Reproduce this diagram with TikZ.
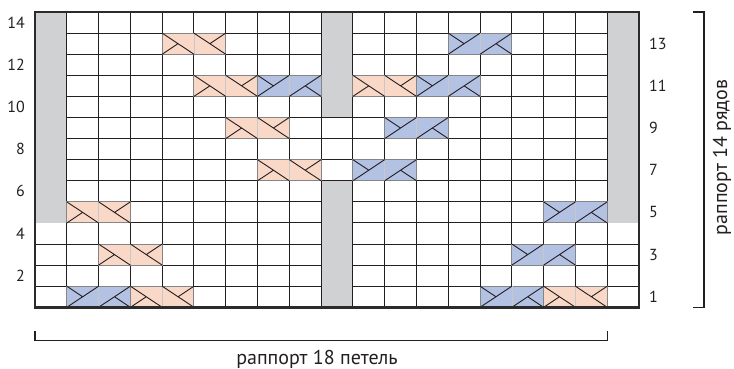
\documentclass[tikz,border=0pt]{standalone}
\usepackage{fontspec}
\setmainfont{PT Sans}
\usepackage{xcolor}
\usepackage{tikz}
\usetikzlibrary{positioning}
\definecolor{CableRose}{HTML}{F9D8C7}
\definecolor{CableBlue}{HTML}{B3C1E3}
\definecolor{PurlGray}{HTML}{D0D1D3}
\definecolor{FrameDark}{HTML}{2B2B2B}
\definecolor{CableEdge}{HTML}{858585}
\definecolor{InkGray}{HTML}{231F20}

\begin{document}
\begin{tikzpicture}[
  x=31.79pt, y=21.09pt,
  gridline/.style={InkGray, line width=1pt},
  frame/.style={FrameDark, line width=2.8pt},
  purl/.style={fill=PurlGray},
  cablebox/.style={draw=CableEdge, line width=1pt},
  divider/.style={CableEdge!45, line width=0.6pt},
  crossline/.style={InkGray, line width=0.9pt},
  rowno/.style={font=\fontsize{16}{18}\selectfont, text=InkGray, inner sep=0pt},
  bracket/.style={InkGray, line width=1.2pt},
  caption/.style={font=\fontsize{20}{24}\selectfont, text=InkGray, inner sep=0pt}
]

\useasboundingbox (-35pt,-61.7pt) rectangle ++(734pt,369pt);

\foreach \j in {1,...,13}
  \draw[gridline] (0,\j) -- (19,\j);

\fill[purl] (0,4) rectangle (1,14);
\fill[purl] (18,4) rectangle (19,14);
\fill[purl] (9,9) rectangle (10,14);
\fill[purl] (9,0) rectangle (10,6);

\foreach \i in {1,...,18}
  \draw[gridline] (\i,0) -- (\i,14);

\foreach \c/\r in {5/13,6/11,11/11,7/9,8/7,2/5,3/3,4/1,17/1}{
  \draw[cablebox, fill=CableRose] (\c-1,\r-1) rectangle ++(2,1);
  \draw[divider] (\c,\r-1) -- ++(0,1);
  \draw[crossline] (\c-1,\r) -- ++(1,-1) (\c,\r) -- ++(1,-1)
    (\c-1,\r-1) -- ++(0.5,0.5) (\c+0.5,\r-0.5) -- ++(0.5,0.5);
}

\foreach \c/\r in {14/13,8/11,13/11,12/9,11/7,17/5,16/3,2/1,15/1}{
  \draw[cablebox, fill=CableBlue] (\c-1,\r-1) rectangle ++(2,1);
  \draw[divider] (\c,\r-1) -- ++(0,1);
  \draw[crossline] (\c-1,\r-1) -- ++(1,1) (\c,\r-1) -- ++(1,1)
    (\c-1,\r) -- ++(0.5,-0.5) (\c+0.5,\r-0.5) -- ++(0.5,-0.5);
}

\draw[frame] (0,0) rectangle (19,14);

\foreach \r in {2,4,...,14}
  \node[rowno, anchor=east, xshift=-10pt] (left\r) at (0,\r-0.5) {\r};
\foreach \r in {1,3,...,13}
  \node[rowno, anchor=west, xshift=10pt] (right\r) at (19,\r-0.5) {\r};

\coordinate (stL) at ([yshift=-33.4pt]0,0);
\coordinate (stR) at ([yshift=-33.4pt]18,0);
\draw[bracket] ([yshift=10pt]stL) -- (stL) -- (stR) -- ([yshift=10pt]stR);
\node[caption] (stitches) at ([yshift=-52pt]8.87,0) {раппорт 18 петель};

\coordinate (rwT) at ([xshift=65pt]19,14);
\coordinate (rwB) at ([xshift=65pt]19,0);
\draw[bracket] ([xshift=-11pt]rwT) -- (rwT) -- (rwB) -- ([xshift=-11pt]rwB);
\node[caption, rotate=90] (rows) at ([xshift=83pt]19,7.1) {раппорт 14 рядов};

\end{tikzpicture}
\end{document}
